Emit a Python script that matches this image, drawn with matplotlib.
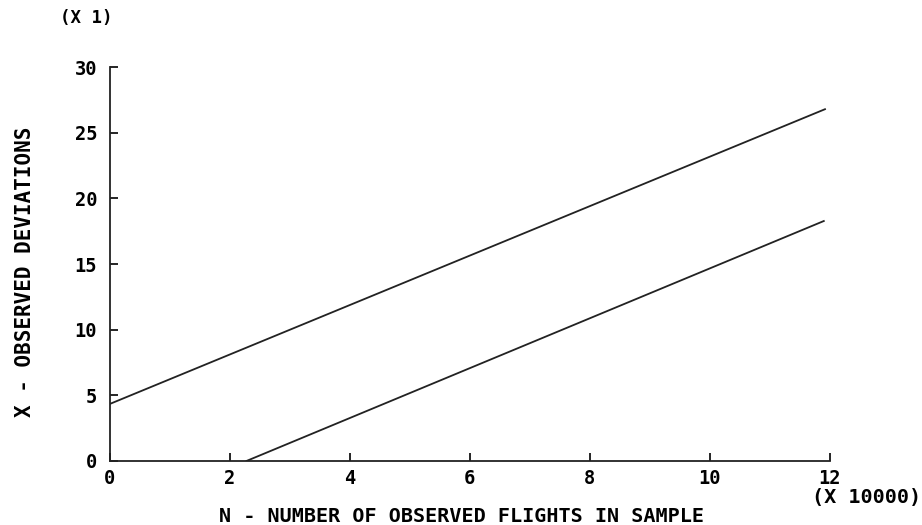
import matplotlib.pyplot as plt

# (N in units of 10000 flights, X in deviations)
upperN = [0.0, 11.92]
upperX = [4.34, 26.8]
lowerN = [2.28, 11.9]
lowerX = [0.0, 18.28]

xTicks = [0, 2, 4, 6, 8, 10, 12]
yTicks = [0, 5, 10, 15, 20, 25, 30]

plt.rcParams['font.family'] = 'DejaVu Sans Mono'
plt.rcParams['font.weight'] = 'bold'

fig = plt.figure(figsize=(9.22, 5.25), dpi=100)
ax = fig.add_axes([0.119, 0.122, 0.781, 0.750])

ax.plot(upperN, upperX, color='#222222', linewidth=1.3)
ax.plot(lowerN, lowerX, color='#222222', linewidth=1.3)

ax.set_xlim(0, 12)
ax.set_ylim(0, 30)
ax.set_xticks(xTicks)
ax.set_yticks(yTicks)
ax.set_xticklabels([str(t) for t in xTicks], fontsize=13.5, fontweight='bold')
ax.set_yticklabels([str(t) for t in yTicks], fontsize=13.5, fontweight='bold')
ax.tick_params(axis='x', direction='in', length=6, width=1.2, pad=6)
ax.tick_params(axis='y', direction='in', length=6, width=1.2, pad=9)

for side in ['top', 'right']:
    ax.spines[side].set_visible(False)
for side in ['left', 'bottom']:
    ax.spines[side].set_linewidth(1.3)
    ax.spines[side].set_color('#222222')

fig.text(0.501, 0.016, 'N - NUMBER OF OBSERVED FLIGHTS IN SAMPLE',
         ha='center', va='center', fontsize=14.5, fontweight='bold')
fig.text(0.027, 0.483, 'X - OBSERVED DEVIATIONS', rotation=90,
         ha='center', va='center', fontsize=15, fontweight='bold')
fig.text(0.940, 0.052, '(X 10000)', ha='center', va='center',
         fontsize=14.5, fontweight='bold')
fig.text(0.094, 0.966, '(X 1)', ha='center', va='center',
         fontsize=12.5, fontweight='bold')

plt.savefig('out.png', dpi=100)
